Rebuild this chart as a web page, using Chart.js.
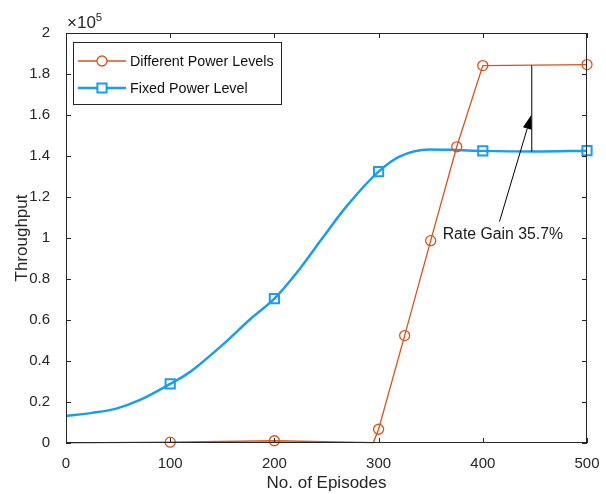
<!DOCTYPE html>
<html>
<head>
<meta charset="utf-8">
<script src="https://cdn.jsdelivr.net/npm/chart.js@4.4.0/dist/chart.umd.min.js"></script>
<style>
  body { margin: 0; background: #fff; }
  #wrap { width: 606px; height: 494px; }
</style>
</head>
<body>
<div id="wrap"><canvas id="chart" width="606" height="494"></canvas></div>
<script>
// episodes / throughput
const diffX = [0, 100, 200, 295, 300, 325, 350, 375, 400, 450, 500];
const diffY = [100, 400, 1100, 200, 6700, 52400, 98700, 144500, 184100, 184300, 184600];
const diffMarks = [100, 200, 300, 325, 350, 375, 400, 500];

const fixedX = [0, 25, 49, 71, 100, 113, 125, 151, 177, 200, 221, 247, 269, 300, 320, 349, 375, 400, 450, 500];
const fixedY = [13200, 14700, 16900, 21000, 28800, 32600, 37000, 48200, 60500, 70400, 82800, 100600, 115300, 132400, 139700, 143200, 142900, 142500, 142200, 142600];
const fixedMarks = [100, 200, 300, 400, 500];

const xTicks = [0, 100, 200, 300, 400, 500];
const yTicks = [0, 20000, 40000, 60000, 80000, 100000, 120000, 140000, 160000, 180000, 200000];

const seriesNames = ['Different Power Levels', 'Fixed Power Level'];
const gainText = 'Rate Gain 35.7%';
const gainAt = 447;

const ORANGE = '#D95319';
const BLUE = '#1A9CF0';
const AX = '#262626';
const FONT = '"Liberation Sans", Arial, Helvetica, sans-serif';

const toPts = (xs, ys) => xs.map((x, i) => ({ x: x, y: ys[i] }));
const radii = (xs, marks, r) => xs.map(x => marks.includes(x) ? r : 0);

const fmtY = v => String(parseFloat((v / 1e5).toFixed(1)));

const matlabAxes = {
  id: 'matlabAxes',
  afterDatasetsDraw(chart) {
    const ctx = chart.ctx;
    const a = chart.chartArea;
    const xs = chart.scales.x, ys = chart.scales.y;
    ctx.save();

    // annotation: vertical gap line + arrow + text
    const gx = xs.getPixelForValue(gainAt);
    ctx.strokeStyle = '#000';
    ctx.lineWidth = 1;
    ctx.beginPath();
    ctx.moveTo(gx, ys.getPixelForValue(142200));
    ctx.lineTo(gx, ys.getPixelForValue(184200));
    ctx.stroke();

    const tx = xs.getPixelForValue(416), ty = ys.getPixelForValue(108000);
    const hx = gx - 0.5, hy = ys.getPixelForValue(160000);
    const ang = Math.atan2(hy - ty, hx - tx);
    const hl = 14, hw = 4.5;
    const bx = hx - hl * Math.cos(ang), by = hy - hl * Math.sin(ang);
    ctx.beginPath();
    ctx.moveTo(tx, ty);
    ctx.lineTo(bx, by);
    ctx.stroke();
    ctx.fillStyle = '#000';
    ctx.beginPath();
    ctx.moveTo(hx, hy);
    ctx.lineTo(bx + hw * Math.sin(ang), by - hw * Math.cos(ang));
    ctx.lineTo(bx - hw * Math.sin(ang), by + hw * Math.cos(ang));
    ctx.closePath();
    ctx.fill();

    ctx.fillStyle = '#1a1a1a';
    ctx.font = '15.8px ' + FONT;
    ctx.textAlign = 'left';
    ctx.textBaseline = 'middle';
    ctx.fillText(gainText, xs.getPixelForValue(361.5), ys.getPixelForValue(101500));

    // box + inward ticks
    ctx.strokeStyle = AX;
    ctx.lineWidth = 1;
    ctx.strokeRect(a.left + 0.5, a.top + 0.5, a.right - a.left - 1, a.bottom - a.top - 1);
    ctx.beginPath();
    xTicks.forEach(v => {
      const p = Math.round(xs.getPixelForValue(v)) + 0.5;
      ctx.moveTo(p, a.bottom); ctx.lineTo(p, a.bottom - 5);
      ctx.moveTo(p, a.top); ctx.lineTo(p, a.top + 5);
    });
    yTicks.forEach(v => {
      const p = Math.round(ys.getPixelForValue(v)) + 0.5;
      ctx.moveTo(a.left, p); ctx.lineTo(a.left + 5, p);
      ctx.moveTo(a.right, p); ctx.lineTo(a.right - 5, p);
    });
    ctx.stroke();

    // exponent
    ctx.fillStyle = AX;
    ctx.textAlign = 'left';
    ctx.textBaseline = 'alphabetic';
    ctx.font = '17px ' + FONT;
    ctx.fillText('\u00d710', a.left + 1, 28);
    const ew = ctx.measureText('\u00d710').width;
    ctx.font = '11.5px ' + FONT;
    ctx.fillText('5', a.left + 1 + ew, 21);

    // axis titles
    ctx.font = '17px ' + FONT;
    ctx.textAlign = 'center';
    ctx.textBaseline = 'middle';
    ctx.fillText('No. of Episodes', (a.left + a.right) / 2, 483);
    ctx.translate(22, (a.top + a.bottom) / 2);
    ctx.rotate(-Math.PI / 2);
    ctx.fillText('Throughput', 0, 0);
    ctx.restore();

    // legend
    ctx.save();
    ctx.fillStyle = '#fff';
    ctx.fillRect(73, 42, 208, 62);
    ctx.strokeStyle = AX;
    ctx.lineWidth = 1;
    ctx.strokeRect(73.5, 42.5, 208, 62);
    const rows = [
      { y: 61, color: ORANGE, w: 1.3, style: 'circle', r: 5 },
      { y: 88, color: BLUE, w: 2.5, style: 'rect', r: 6.5 }
    ];
    rows.forEach((row, i) => {
      ctx.strokeStyle = row.color;
      ctx.lineWidth = row.w;
      ctx.beginPath();
      ctx.moveTo(78, row.y); ctx.lineTo(126, row.y);
      ctx.stroke();
      ctx.fillStyle = '#fff';
      ctx.beginPath();
      if (row.style === 'circle') {
        ctx.arc(102, row.y, row.r, 0, Math.PI * 2);
      } else {
        const s = row.r * Math.SQRT1_2;
        ctx.rect(102 - s, row.y - s, 2 * s, 2 * s);
      }
      ctx.fill();
      ctx.lineWidth = i === 0 ? 1.3 : 2;
      ctx.stroke();
      ctx.fillStyle = '#111';
      ctx.font = '14.3px ' + FONT;
      ctx.textAlign = 'left';
      ctx.textBaseline = 'middle';
      ctx.fillText(seriesNames[i], 130, row.y + 1);
    });
    ctx.restore();
  }
};

new Chart(document.getElementById('chart').getContext('2d'), {
  type: 'line',
  data: {
    datasets: [{
      label: seriesNames[0],
      data: toPts(diffX, diffY),
      borderColor: ORANGE,
      borderWidth: 1.3,
      tension: 0,
      pointStyle: 'circle',
      pointRadius: radii(diffX, diffMarks, 5),
      pointBorderColor: ORANGE,
      pointBackgroundColor: 'rgba(255,255,255,0)',
      pointBorderWidth: 1.3,
      order: 1
    }, {
      label: seriesNames[1],
      data: toPts(fixedX, fixedY),
      borderColor: BLUE,
      borderWidth: 2.5,
      cubicInterpolationMode: 'monotone',
      pointStyle: 'rect',
      pointRadius: radii(fixedX, fixedMarks, 6.5),
      pointBorderColor: BLUE,
      pointBackgroundColor: 'rgba(255,255,255,0)',
      pointBorderWidth: 2,
      order: 2
    }]
  },
  options: {
    responsive: false,
    animation: false,
    events: [],
    clip: false,
    layout: { padding: { top: 33, right: 19, left: 0, bottom: 0 } },
    plugins: { legend: { display: false }, tooltip: { enabled: false } },
    scales: {
      x: {
        type: 'linear', min: 0, max: 500,
        afterBuildTicks: s => { s.ticks = xTicks.map(v => ({ value: v })); },
        afterFit: s => { s.height = 51; },
        grid: { display: false },
        border: { display: false },
        ticks: { color: AX, font: { family: FONT, size: 15 }, padding: 4, maxRotation: 0 }
      },
      y: {
        type: 'linear', min: 0, max: 200000,
        afterBuildTicks: s => { s.ticks = yTicks.map(v => ({ value: v })); },
        afterFit: s => { s.width = 66; },
        grid: { display: false },
        border: { display: false },
        ticks: { color: AX, font: { family: FONT, size: 15 }, padding: 8, callback: v => fmtY(v) }
      }
    }
  },
  plugins: [matlabAxes]
});
</script>
</body>
</html>
